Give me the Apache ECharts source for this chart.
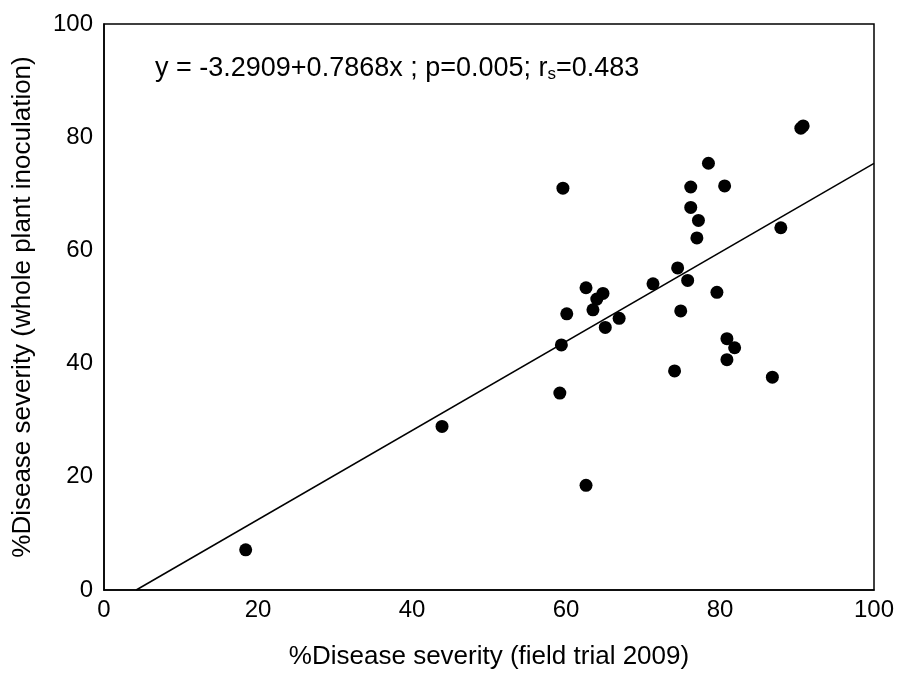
<!DOCTYPE html>
<html>
<head>
<meta charset="utf-8">
<script src="https://cdn.jsdelivr.net/npm/echarts@6/dist/echarts.min.js"></script>
<style>html,body{margin:0;padding:0;background:#fff}#c{width:898px;height:675px}</style>
</head>
<body>
<div id="c"></div>
<script>
// Data
const fieldTrial = [18.4, 43.9, 59.2, 59.4, 59.6, 60.1, 62.6, 62.6, 63.5, 64.0, 64.8, 65.1, 66.9, 71.3, 74.1, 74.5, 74.9, 75.8, 76.2, 76.2, 77.0, 77.2, 78.5, 79.6, 80.6, 80.9, 80.9, 81.9, 86.8, 87.9, 90.5, 90.8];
const wholePlant = [7.1, 28.9, 34.8, 43.3, 71.0, 48.8, 18.5, 53.4, 49.5, 51.4, 52.4, 46.4, 48.0, 54.1, 38.7, 56.9, 49.3, 54.7, 71.2, 67.6, 62.2, 65.3, 75.4, 52.6, 71.4, 44.4, 40.7, 42.8, 37.6, 64.0, 81.6, 82.0];
const intercept = -3.2909;
const slope = 0.7868;
const xTicks = [0, 20, 40, 60, 80, 100];
const yTicks = [0, 20, 40, 60, 80, 100];

const points = fieldTrial.map((x, i) => [x, wholePlant[i]]);
const xStart = -intercept / slope;
const fitLine = [[xStart, 0], [100, intercept + slope * 100]];

const FONT = '"Liberation Sans", Arial, sans-serif';
const chart = echarts.init(document.getElementById('c'), null, {renderer: 'canvas'});
chart.setOption({
  animation: false,
  backgroundColor: '#fff',
  grid: {left: 104, right: 24, top: 24, bottom: 83, show: true, borderColor: '#000', borderWidth: 1.5, backgroundColor: 'transparent'},
  xAxis: {
    type: 'value', min: xTicks[0], max: xTicks[xTicks.length - 1], interval: 20,
    name: '%Disease severity (field trial 2009)', nameLocation: 'middle', nameGap: 54,
    nameTextStyle: {fontFamily: FONT, fontSize: 26, color: '#000'},
    axisLine: {show: true, lineStyle: {color: '#000', width: 1.5}},
    axisTick: {show: false}, splitLine: {show: false},
    axisLabel: {fontFamily: FONT, fontSize: 24, color: '#000', margin: 8}
  },
  yAxis: {
    type: 'value', min: yTicks[0], max: yTicks[yTicks.length - 1], interval: 20,
    name: '%Disease severity (whole plant inoculation)', nameLocation: 'middle', nameGap: 68,
    nameTextStyle: {fontFamily: FONT, fontSize: 26, color: '#000'},
    axisLine: {show: true, lineStyle: {color: '#000', width: 1.5}},
    axisTick: {show: false}, splitLine: {show: false},
    axisLabel: {fontFamily: FONT, fontSize: 24, color: '#000', margin: 11}
  },
  series: [
    {type: 'line', data: fitLine, symbol: 'none', lineStyle: {color: '#000', width: 1.5}, z: 2, silent: true},
    {type: 'scatter', data: points, symbol: 'circle', symbolSize: 13, itemStyle: {color: '#000', opacity: 1}, z: 3}
  ],
  graphic: [{
    type: 'text', left: 155, top: 55, z: 10,
    style: {
      text: 'y = -3.2909+0.7868x ; p=0.005; r{s|s}=0.483',
      fontFamily: FONT, fontSize: 27, fill: '#000',
      rich: {s: {fontFamily: FONT, fontSize: 17, fill: '#000', verticalAlign: 'bottom', padding: [12, 0, 0, 0]}}
    }
  }]
});
</script>
</body>
</html>
